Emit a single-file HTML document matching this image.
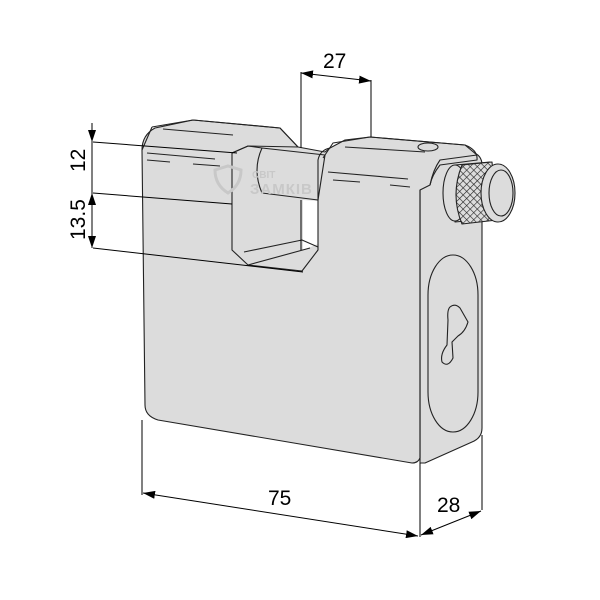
<!DOCTYPE html>
<html><head><meta charset="utf-8"><style>
html,body{margin:0;padding:0;background:#fff}
svg{display:block}
text{font-family:"Liberation Sans Narrow","Liberation Sans",sans-serif;font-size:21px;fill:#000}
</style></head><body>
<svg width="600" height="600" viewBox="0 0 600 600" xmlns="http://www.w3.org/2000/svg">
<defs>
<pattern id="kn" width="5" height="5" patternUnits="userSpaceOnUse" patternTransform="rotate(45)">
<rect width="5" height="5" fill="#ddd"/><path d="M0 0H5M0 0V5" stroke="#222" stroke-width="1.2"/>
</pattern>
<marker id="a" markerWidth="12" markerHeight="8" refX="12" refY="4" orient="auto" markerUnits="userSpaceOnUse"><path d="M0 0L12 4L0 8z" fill="#000"/></marker>
<marker id="b" markerWidth="12" markerHeight="8" refX="0" refY="4" orient="auto" markerUnits="userSpaceOnUse"><path d="M12 0L0 4L12 8z" fill="#000"/></marker>
</defs>
<g stroke="#222" stroke-width="1.1" fill="#dcdcdc" stroke-linejoin="round">
<!-- side face -->
<path d="M420 170 L440 155 L472 152 Q482 155 482 165 L482 428 Q482 438 472 442 L425 463 L420 463 Z"/>
<!-- body front -->
<path d="M142 150 Q142 135 155 128 L193 120 L280 128 L298 147 L325 152 L330 148 L345 140 L370 137 L465 145 Q478 150 477 160 L440 165 Q432 175 430 185 L420 190 L420 458 Q418 463 412 463 L158 420 Q145 416 145 405 Z"/>
<!-- white slot in hole -->
<path d="M303 200 L318 201 L318 244 L303 250 Z" fill="#fff" stroke="none"/>
<!-- shackle bar -->
<path d="M262 148 L325 155 L318 200 L262 193 Q252 170 262 148 Z"/>
<path d="M232 153 L248 146 L262 148 M232 153 L232 250 L248 265 L302 271 L318 250 L318 200" fill="none"/>
<path d="M244 252 L302 240 L318 247 M248 265 L310 248" fill="none"/>
<path d="M318 200 L318 160 Q320 150 330 148" fill="none"/>
<path d="M152 127 L142 150 M152 127 L193 120 L280 128 L298 147 L248 146 L232 153" fill="none"/>
<path d="M323 158 L333 143 L370 137 L465 145 L477 155 L440 160 Q433 170 430 185" fill="none"/>
<path d="M420 190 L420 460" fill="none"/>
<!-- top detail lines -->
<path d="M163 129 L233 135 M147 153 L215 159 M147 160 L170 162 M193 164 L220 166 M345 147 L425 152 M328 172 L408 179 M333 180 L360 182 M390 185 L410 187" fill="none"/>
<ellipse cx="428" cy="147" rx="10" ry="4" fill="#dcdcdc"/>
<!-- keyhole oval -->
<rect x="428" y="255" width="50" height="177" rx="25" ry="40" fill="#dcdcdc"/>
<path d="M450 307 Q455 303 460 308 L468 322 Q465 332 458 336 L452 342 L453 358 Q448 368 442 362 Q440 354 447 345 L448 320 Q447 310 450 307 Z"/>
<!-- knob -->
<path d="M455 165 L490 162 L498 218 L455 222 Z"/>
<ellipse cx="455" cy="193" rx="12" ry="28"/>
<path d="M462 165 L492 162 L497 220 L462 224 Q450 195 462 165 Z" fill="url(#kn)"/>
<ellipse cx="498" cy="193" rx="17" ry="29"/>
<ellipse cx="501" cy="193" rx="12" ry="23"/>
</g>
<!-- watermark -->
<path d="M215 170 L228 166 L241 170 Q241 185 228 193 Q215 185 215 170 Z" fill="none" stroke="#c8c8c8" stroke-width="3"/>
<text x="252" y="178" style="font-size:10px;fill:#c8c8c8;font-weight:bold">СВІТ</text>
<text x="250" y="194" style="font-size:15px;fill:#c8c8c8;font-weight:bold;letter-spacing:1px">ЗАМКІВ</text>
<!-- dimensions -->
<g stroke="#000" stroke-width="1" fill="none">
<path d="M301 72 V148 M301 200 V250 M371 80 V137"/>
<path d="M301 73 L371 81" marker-start="url(#b)" marker-end="url(#a)"/>
<path d="M93 142 L237 153 M93 193 L232 204 M93 248 L303 272"/>
<path d="M92 123 V142" marker-end="url(#a)"/>
<path d="M92 142 V193" />
<path d="M92 193 V248" marker-start="url(#b)" marker-end="url(#a)"/>
<path d="M142 420 V495 M420 463 V537 M482 435 V510"/>
<path d="M143 493 L418 536" marker-start="url(#b)" marker-end="url(#a)"/>
<path d="M421 535 L481 511" marker-start="url(#b)" marker-end="url(#a)"/>
</g>
<text x="323" y="68">27</text>
<text x="268" y="505">75</text>
<text x="437" y="512">28</text>
<text transform="translate(85,172) rotate(-90)">12</text>
<text transform="translate(85,240) rotate(-90)">13.5</text>
</svg>
</body></html>
